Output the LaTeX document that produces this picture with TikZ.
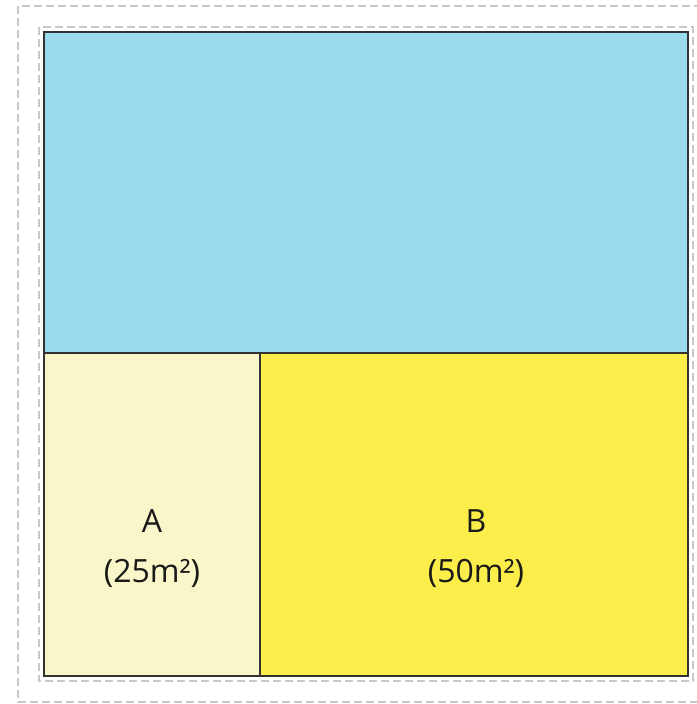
\documentclass[tikz,border=0pt]{standalone}
\usepackage{fontspec}
\setmainfont{Open Sans}
\definecolor{skyblue}{HTML}{9ADBEE}
\definecolor{paleyellow}{HTML}{F9F7C9}
\definecolor{brightyellow}{HTML}{FCEE4A}
\definecolor{edge}{HTML}{333333}
\definecolor{dashgray}{HTML}{C8C8C8}
\begin{document}
\begin{tikzpicture}[x=1pt,y=-1pt,
  dashframe/.style={draw=dashgray,line width=1.3pt,dash pattern=on 8pt off 4pt},
  plot/.style={draw=edge,line width=1.5pt},
  label/.style={font=\fontsize{32}{38}\selectfont,text=black!90,align=center}]
\useasboundingbox (0,0) rectangle (696,704);
\fill[white] (0,0) rectangle (696,704);
\draw[dashframe] (18,6) rectangle (702,702);
\draw[dashframe] (39,27) rectangle (693,681);
\fill[skyblue] (44,32) rectangle (688,353);
\fill[paleyellow] (44,353) rectangle (260,676);
\fill[brightyellow] (260,353) rectangle (688,676);
\draw[plot] (44,353) -- (688,353);
\draw[plot] (260,353) -- (260,676);
\draw[plot] (44,32) rectangle (688,676);
\node[label] (a) at (152,521) {A};
\node[label] (aa) at (152,573) {(25m²)};
\node[label] (b) at (476,521) {B};
\node[label] (bb) at (476,573) {(50m²)};
\end{tikzpicture}
\end{document}
